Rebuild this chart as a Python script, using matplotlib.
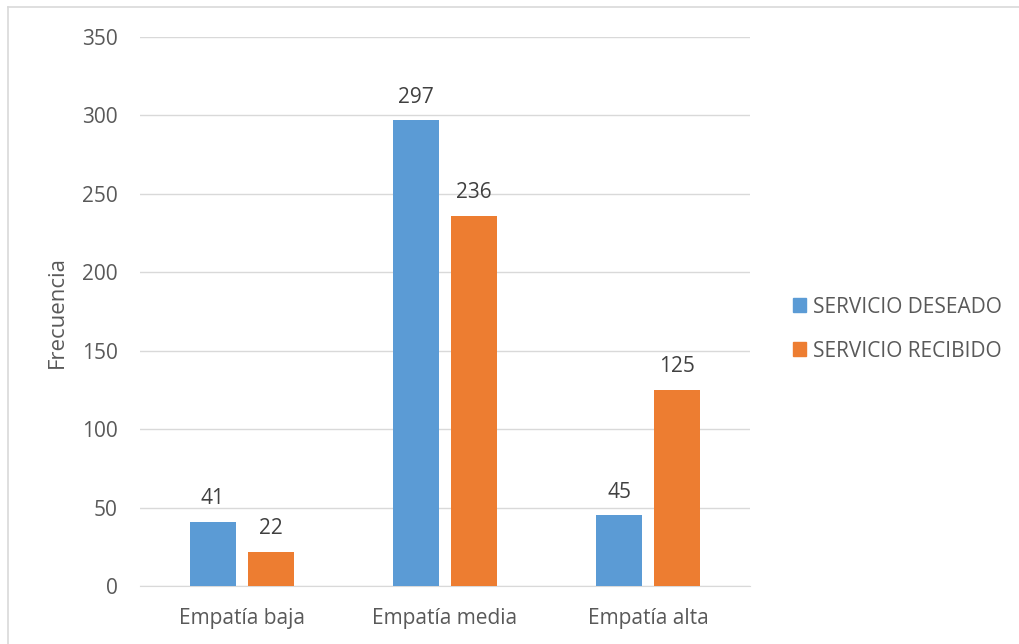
import numpy as np
import matplotlib
matplotlib.use('Agg')
import matplotlib.pyplot as plt
from matplotlib.lines import Line2D

categories = ["Empatía baja", "Empatía media", "Empatía alta"]
deseado = [41, 297, 45]
recibido = [22, 236, 125]
series_names = ["SERVICIO DESEADO", "SERVICIO RECIBIDO"]
y_ticks = [0, 50, 100, 150, 200, 250, 300, 350]

BLUE = '#5B9BD5'
ORANGE = '#ED7D31'
TEXT = '#595959'

plt.rcParams['font.family'] = ['Open Sans', 'DejaVu Sans']

fig = plt.figure(figsize=(10.2, 6.44), dpi=100)
ax = fig.add_axes([0.1373, 0.090, 0.598, 0.8525])

x = np.arange(len(categories))
w = 0.226
off = 0.1425
b1 = ax.bar(x - off, deseado, w, color=BLUE, label=series_names[0], zorder=3)
b2 = ax.bar(x + off, recibido, w, color=ORANGE, label=series_names[1], zorder=3)

for bars in (b1, b2):
    for rect in bars:
        h = rect.get_height()
        ax.annotate(f"{h:d}", (rect.get_x() + rect.get_width() / 2, h),
                    xytext=(0, 9), textcoords='offset points',
                    ha='center', va='bottom', fontsize=15, color='#404040')

ax.set_xlim(-0.5, 2.5)
ax.set_ylim(0, 350)
ax.set_yticks(y_ticks)
ax.set_xticks(x)
ax.set_xticklabels(categories)
ax.tick_params(axis='both', length=0, labelsize=15, labelcolor=TEXT)
ax.tick_params(axis='y', pad=16)
ax.tick_params(axis='x', pad=16)
ax.grid(axis='y', color='#D9D9D9', linewidth=1, zorder=0)
for s in ('top', 'right', 'left'):
    ax.spines[s].set_visible(False)
ax.spines['bottom'].set_color('#D9D9D9')
ax.set_ylabel("Frecuencia", fontsize=16, color=TEXT, labelpad=10)

handles = [plt.Rectangle((0, 0), 1, 1, color=BLUE), plt.Rectangle((0, 0), 1, 1, color=ORANGE)]
fig.legend(handles, series_names, loc='center left', bbox_to_anchor=(0.759, 0.489),
           frameon=False, fontsize=15, labelcolor=TEXT, handlelength=0.63,
           handleheight=0.63, handletextpad=0.33, labelspacing=1.1)

# chart border (only left/top visible in the crop)
fig.add_artist(Line2D([0.0075, 0.0075], [0, 0.989], transform=fig.transFigure, color='#D9D9D9', lw=1.2))
fig.add_artist(Line2D([0.0075, 1], [0.989, 0.989], transform=fig.transFigure, color='#D9D9D9', lw=1.2))

fig.savefig('out.png', dpi=100)
plt.close(fig)
